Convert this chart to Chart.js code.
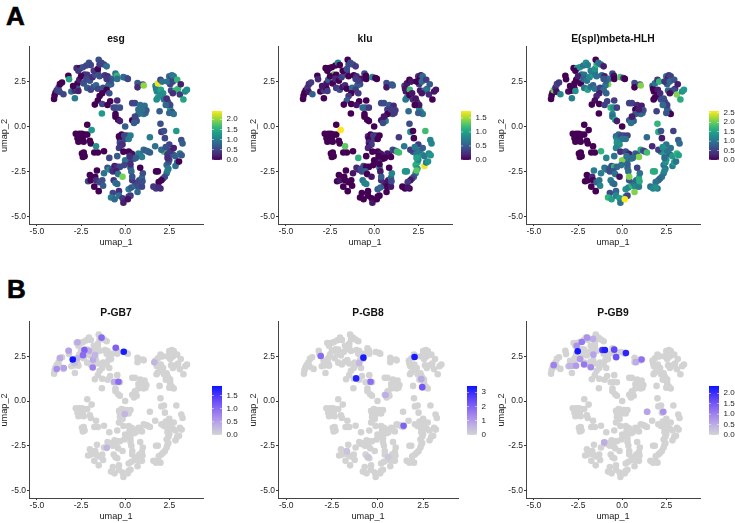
<!DOCTYPE html>
<html>
<head>
<meta charset="utf-8">
<title>umap</title>
<script src="https://cdn.jsdelivr.net/npm/chart.js@4"></script>
<style>
    html, body { margin: 0; padding: 0; background: #fff; }
    body { width: 735px; height: 523px; overflow: hidden; position: relative; }
    canvas { position: absolute; }
    .letter { position: absolute; font: bold 26px "Liberation Sans", sans-serif; color: #000; line-height: 26px; -webkit-text-stroke: 0.6px #000; }
</style>
</head>
<body>
<div class="letter" style="left:6px;top:3px">A</div>
<div class="letter" style="left:7px;top:276px">B</div>

<script>
// cell positions, one line per ten cells
var umap1 = [
    -4.03,-4.00,-3.95,-3.88,-3.78,-3.70,-3.58,-3.72,-3.50,-3.22,
    -3.18,-3.05,-2.85,-2.85,-2.70,-2.70,-2.65,-2.95,-2.60,-2.75,
    -2.55,-2.65,-2.40,-2.20,-2.05,-1.95,-2.30,-2.15,-2.50,-2.35,
    -2.20,-2.00,-2.15,-1.95,-1.80,-1.65,-1.55,-1.85,-1.70,-1.55,
    -1.78,-1.55,-1.45,-1.50,-1.35,-1.20,-1.05,-1.45,-1.15,-1.00,
    -0.75,-0.55,-0.47,-0.45,-0.80,-0.95,-1.25,-1.05,-0.90,-1.30,
    -0.10,0.07,0.15,0.70,0.70,1.00,1.05,-0.90,-1.05,-1.45,
    -1.55,-1.72,-1.30,-1.32,-0.85,-0.45,-0.65,-0.50,-0.30,-0.55,
    -0.55,-0.40,-0.30,-1.00,0.40,0.55,0.85,1.10,0.75,0.90,
    1.05,1.15,0.75,1.20,0.40,0.60,0.65,0.50,0.55,0.95,
    1.72,1.75,1.80,1.85,1.78,1.86,2.00,2.10,2.02,2.00,
    2.15,2.20,2.40,2.50,2.60,2.65,2.75,2.55,2.40,2.70,
    2.95,2.60,2.85,3.00,2.95,2.70,3.15,3.10,3.30,3.40,
    3.50,2.45,2.55,2.65,2.75,2.50,1.95,2.55,2.30,2.35,
    2.00,2.05,2.20,2.90,2.25,3.18,3.25,2.50,1.40,1.70,
    2.20,2.40,2.05,2.70,2.85,3.10,3.20,2.55,2.75,2.30,
    2.35,2.45,2.50,2.40,2.85,2.95,3.05,2.45,2.35,2.40,
    2.25,2.15,2.05,1.90,2.00,1.75,1.85,1.60,1.75,1.90,
    0.00,-0.35,-0.30,-0.20,-0.05,0.10,0.30,0.00,0.20,-0.30,
    -0.25,-0.15,-0.35,-0.45,-0.10,0.20,0.35,0.40,0.75,0.85,
    1.05,1.20,1.30,1.40,0.95,0.50,0.30,0.25,0.30,0.35,
    -2.15,-2.80,-2.60,-2.45,-2.30,-2.15,-2.55,-2.40,-2.70,-2.50,
    -2.65,-2.35,-1.90,-2.00,-1.95,-1.65,-2.45,-2.35,-2.40,-2.30,
    -1.75,-1.55,-1.20,-0.90,0.00,-0.05,0.60,0.25,
    -1.60,-2.00,-2.10,-1.95,-1.70,-1.65,-1.45,-1.30,-1.25,-1.75,
    -1.50,-1.20,-1.00,-0.90,-0.75,-0.60,-0.45,-0.30,-0.70,-0.50,
    -0.40,-0.15,-0.65,-0.55,-0.45,-0.35,-0.70,-0.80,-0.60,-0.35,
    -0.15,-0.10,0.20,0.30,0.15,0.20,0.35,0.55,0.65,0.40,
    0.40,0.75,0.95,0.80,0.95,1.00,0.98,0.70,0.30,0.85
];
var umap2 = [
    1.53,1.72,1.88,2.02,2.15,2.36,2.45,1.93,1.80,2.82,
    2.63,1.95,2.00,1.57,2.40,2.10,1.98,2.25,2.60,3.25,
    3.25,3.10,3.30,3.40,3.55,3.42,2.90,2.88,2.80,2.40,
    2.65,2.55,2.15,2.05,2.20,2.30,2.10,2.75,2.90,3.00,
    3.10,3.20,3.45,3.72,3.55,3.45,3.35,2.80,2.85,2.80,
    2.65,2.95,2.83,2.65,2.35,2.30,2.15,2.05,1.85,1.85,
    2.75,2.70,2.65,2.42,2.18,2.33,2.28,2.55,2.65,1.70,
    1.45,1.22,1.25,0.72,1.40,1.45,1.05,1.05,1.05,0.70,
    0.55,0.38,0.30,1.20,1.30,1.30,1.20,1.15,0.95,0.75,
    0.70,0.75,0.70,0.90,0.35,0.40,0.30,0.20,0.55,0.95,
    2.27,2.10,1.95,1.60,1.50,2.40,2.60,2.50,2.05,1.75,
    1.85,1.50,1.40,2.80,2.70,2.85,2.80,2.35,2.50,2.50,
    2.60,2.00,2.00,2.10,2.00,1.85,2.35,1.78,1.50,1.95,
    2.05,1.30,1.00,0.80,0.70,0.75,0.85,1.20,1.20,1.55,
    0.15,-0.30,-0.25,-0.25,-0.65,-0.75,-0.95,-1.00,-0.60,-1.10,
    -1.40,-1.55,-1.30,-1.55,-1.65,-1.50,-1.60,-1.35,-1.20,-1.15,
    -2.15,-2.00,-1.85,-1.75,-2.20,-2.00,-1.95,-2.35,-2.60,-2.45,
    -2.80,-2.90,-3.00,-3.10,-3.45,-2.50,-2.50,-3.35,-3.45,-3.40,
    0.00,-0.55,-0.70,-0.45,-0.50,-0.50,-0.50,-0.70,-0.70,-0.90,
    -1.05,-1.00,-1.20,-1.65,-1.40,-1.40,-1.50,-1.55,-1.50,-1.55,
    -1.30,-1.35,-1.40,-1.45,-1.70,-1.80,-1.80,-2.00,-2.30,-2.50,
    0.10,-0.40,-0.40,-0.40,-0.45,-0.45,-0.60,-0.60,-0.65,-0.80,
    -0.85,-0.85,-0.20,-0.80,-0.95,-1.10,-1.50,-1.45,-1.70,-1.65,
    -1.45,-1.45,-1.38,-1.75,-1.88,-2.15,-1.75,-1.65,
    -2.45,-2.70,-3.05,-3.00,-2.80,-3.00,-3.10,-3.00,-3.30,-3.35,
    -3.60,-2.60,-2.30,-2.40,-2.35,-2.20,-2.25,-2.25,-2.50,-2.50,
    -2.65,-2.80,-3.00,-3.15,-3.20,-3.60,-3.70,-3.95,-4.05,-3.85,
    -4.00,-4.25,-3.90,-3.85,-4.05,-3.50,-3.40,-3.30,-3.15,-3.00,
    -2.80,-3.35,-3.35,-3.00,-2.85,-2.60,-3.05,-3.65,-2.10,-2.30
];

// expression per cell, same order as umap1/umap2
var esg = [
    0,0,0,.4,.5,0,0,.5,.5,0,
    1.4,.8,.3,1,0,.6,.2,0,.2,.3,
    0,.4,.6,.5,.6,.5,.3,.4,0,.6,
    .5,.6,.7,.5,.6,.8,.5,.3,.6,.7,
    .4,0,.4,.6,.5,.5,.9,.6,.4,.3,
    .7,.9,1.6,.9,.7,.8,.6,0,.6,0,
    .8,.8,.5,.7,.3,.4,2,.6,.4,0,
    0,0,.5,1.3,0,.3,.5,.6,.6,0,
    0,0,.2,0,.5,.5,.9,.9,.9,1,
    1,.8,.9,.7,0,.9,.6,.7,.5,.9,
    1.1,1,1.1,1.3,1.2,2.35,.5,.9,1.4,1.2,
    1.2,.9,1.2,.8,.5,.9,1,.5,.9,.5,
    1.6,.5,1.6,1.7,1.6,.3,.2,.4,1.4,1.1,
    1.2,.6,1.4,.5,.9,.8,.7,.5,.8,.3,
    .6,.4,.6,1.3,.5,.6,.7,.5,1,.9,
    1.7,.4,.8,.6,.7,.9,.7,.4,.2,.6,
    .9,.7,.5,.3,.9,.9,0,1,.9,1,
    .6,.5,0,0,.3,0,0,.4,.4,.3,
    .7,0,0,0,.5,.5,1,.5,1,.5,
    .4,.3,.4,.7,0,0,0,.1,1.1,1,
    .8,.7,.8,.7,1,.6,.5,.4,.6,.8,
    0,0,0,0,0,0,0,0,0,0,
    0,0,1.3,0,0,1.2,0,0,0,0,
    0,0,0,.5,.9,.5,.7,.3,
    0,0,.5,0,0,.3,.5,.6,.7,0,
    0,.9,.6,1.2,.7,.2,.3,.5,.3,.2,
    .9,1.9,.4,.9,.8,.3,.5,1,.8,.9,
    .4,.2,.4,.4,.1,1,.7,.8,.5,.4,
    .6,.6,.5,.5,.8,.6,.6,.8,.3,0
];
var klu = [
    0,0,0,0,.3,.2,.3,.1,.55,0,
    .2,0,.3,0,.1,0,.3,.1,.5,0,
    0,0,0,0,.8,0,1.3,0,0,0,
    .2,0,.3,.4,.1,.2,0,.3,.4,.3,
    0,.4,.4,0,.4,.4,.3,0,0,.2,
    .1,.4,0,0,.4,.5,.6,.3,.3,0,
    .8,0,0,.4,.1,.4,.5,.3,.3,.3,
    .5,0,0,0,0,0,.6,.6,.3,0,
    0,0,0,.1,.4,.4,.5,.2,.3,.1,
    .4,.3,0,.3,.1,.2,.7,.4,.1,.3,
    .3,.1,.1,.7,.7,.1,0,.1,1.2,0,
    .1,.2,.9,.2,0,.1,.6,.3,0,.6,
    .3,.1,.6,.6,.7,.1,.5,.2,0,.1,
    .1,.2,.9,.8,.7,.5,.6,.1,0,.1,
    .4,.9,0,1.2,0,.8,.8,.3,.3,.7,
    .4,.7,.3,.9,.7,.8,.9,.7,.5,.7,
    1.1,1.1,.8,1,1.72,.7,.9,.9,.8,1.3,
    .5,.3,.1,.3,0,.9,.9,0,0,.1,
    0,.2,0,0,.3,.3,0,.3,0,.2,
    0,.3,.2,0,0,0,.1,.1,.1,.1,
    .4,.3,1.2,1.2,0,0,0,.2,.7,.1,
    0,0,0,0,0,0,0,0,0,0,
    0,0,1.75,0,0,1.3,0,0,0,0,
    0,0,0,1.1,0,0,0,0,
    0,0,0,.1,0,0,0,0,0,0,
    0,.1,.2,.2,.4,.4,0,0,.4,.5,
    0,.1,.7,.8,.8,0,0,0,0,0,
    0,.1,0,0,0,.5,.6,.5,.1,.2,
    .5,0,.1,.1,.6,.8,.4,0,0,0
];
var esplHlh = [
    0,0,0,2,.3,.5,.4,.1,1.2,0,
    0,.1,0,1.1,0,0,1.3,0,0,0,
    1.4,0,1.3,1,1.3,1.1,.9,1,.2,0,
    .8,1,1,1.5,1,.8,1,1.2,1.4,1,
    1.1,1.3,1.7,0,1,.9,.2,1,.9,.2,
    1,.6,.1,0,2.1,1,.5,.9,.8,.2,
    1.9,.4,0,.6,0,.5,2.1,.8,.7,.3,
    .1,0,0,0,.5,.5,1.7,1.3,.5,1.2,
    .9,1.5,.2,.5,.5,.5,.3,.2,0,.9,
    .9,.9,.7,.6,.7,.7,.8,1,.2,.2,
    .8,0,0,0,0,1,.4,1.7,.2,0,
    .3,.6,.8,.9,.2,.4,.5,.8,.4,.9,
    .7,.9,.5,.4,.6,.1,.2,2.1,1.6,1.3,
    1.4,.5,.8,.8,0,.7,.5,.5,.9,.6,
    1.7,1.6,.7,.5,.2,.8,.9,1,.9,.3,
    1.2,1.4,.5,.8,1.4,1.7,1.5,1,1,1.3,
    1,1.3,1.4,.9,1.1,1.5,1,1,1.1,1.2,
    1,.9,.8,1,1,1.6,1.6,1,1.2,1.3,
    0,1,1.2,.9,.6,.6,.5,1,1,1.3,
    1.4,1.3,1.2,1,.3,.6,.5,.2,.8,.7,
    1.6,.6,.5,1.8,2.1,1.5,.8,1,.9,.9,
    0,0,0,0,0,0,0,0,0,0,
    0,0,0,0,0,0,0,0,0,0,
    0,0,1.7,1.2,2.1,1,.9,1,
    1.1,0,0,0,.3,0,.8,1,1.2,0,
    0,1.1,1,1.1,.7,.6,1.7,.9,.6,.7,
    1,.1,1.1,1,.9,.8,.6,1.7,1.5,1.2,
    1.4,1,1.3,.5,2.6,1.3,1.2,1.7,1,.7,
    2.1,1.2,1.1,.9,1.6,1,1.6,2.1,.8,.5
];

// the P-GB panels are mostly zero, so only the cells that show colour
var pgb7X = [-3.88,-3.48,-3.7,-3.2,-2.7,-2.05,-1.82,-1.7,-2.72,-2.86,1.65,-0.02,-1.04,-0.62,-1.84,-0.38,-2.31,-2.39,-1.34,-0.53,-2.97,-0.08];
var pgb7Y = [1.79,1.85,2.41,2.82,3.29,2.82,2.32,2.57,2.4,2.13,2.17,-0.73,-2.62,1.08,1.88,1.08,2.86,2.57,3.55,2.98,2.33,2.76];
var pgb7V = [.7,.5,.4,.5,.4,.4,.4,.3,.3,.2,.3,.3,.3,.4,.8,1,1.1,1,1,1.1,1.85,1.8];

var pgb8X = [-1.67,-0.51,0.59,-1,0.44,2.4,-3.11,-0.38,1.43,2.45,-0.77,2.03,-1.17];
var pgb8Y = [-2.82,-3.14,-3.14,2.13,0.34,1.23,2.52,1.08,-1.38,0.78,2.43,2.47,1.27];
var pgb8V = [.3,.2,.2,.5,.7,.8,1.9,1.8,2,2.2,3.3,3.3,3.2];

var pgb9X = [-2.99,-2.86,0.78,-1.02,-1.65,1.42,-1.63,2.33,-2.61,-2.39,-1.78,-2.58,-1.99,-3.88,-2.16,-2.29,1.1,-0.34,-0.45,-1.12,-0.98,0.21,-2.52];
var pgb9Y = [1.96,1.96,2.18,-2.32,3.48,-0.6,2.6,-0.6,1.98,2.35,1.89,3.1,3.55,2.01,2.05,3.31,2.33,2.46,2.88,2.86,2.86,2.69,2.79];
var pgb9V = [.4,.4,.5,.5,.5,.6,.6,.8,.7,.7,.9,.8,.8,1,1.1,1.1,1.2,1.6,1.7,1.9,2.2,2.1,2.3];

var axisTicks = [-5, -2.5, 0, 2.5];

var esgTicks = [0, .5, 1, 1.5, 2];
var kluTicks = [0, .5, 1, 1.5];
var esplTicks = [0, .5, 1, 1.5, 2, 2.5];
var pgb7Ticks = [0, .5, 1, 1.5];
var pgb8Ticks = [0, 1, 2, 3];
var pgb9Ticks = [0, .5, 1, 1.5, 2];

var viridis = ['#440154','#482878','#3e4989','#31688e','#26828e','#1f9e89','#35b779','#6ece58','#b5de2b','#fde725'];
var greyBlue = ['#d3d3d3','#bfaee6','#a287ec','#7e5ff5','#4e38fb','#0a14ff'];

function hexToRgb(hex) {
    return [parseInt(hex.substr(1,2),16), parseInt(hex.substr(3,2),16), parseInt(hex.substr(5,2),16)];
}

function ramp(stops, t) {
    t = Math.max(0, Math.min(1, t));
    var pos = t * (stops.length - 1);
    var i = Math.min(Math.floor(pos), stops.length - 2);
    var a = hexToRgb(stops[i]), b = hexToRgb(stops[i+1]);
    var f = pos - i;
    return 'rgb(' + Math.round(a[0]+(b[0]-a[0])*f) + ',' + Math.round(a[1]+(b[1]-a[1])*f) + ',' + Math.round(a[2]+(b[2]-a[2])*f) + ')';
}

var colorBar = {
    id: 'colorBar',
    afterDraw: function(chart, args, opts) {
        var ctx = chart.ctx, area = chart.chartArea;
        var x = area.right + 9, w = 10;
        var top = area.top + 64, bottom = area.top + 113;
        var grad = ctx.createLinearGradient(0, bottom, 0, top);
        opts.stops.forEach(function(c, i) { grad.addColorStop(i / (opts.stops.length - 1), c); });
        ctx.save();
        ctx.fillStyle = grad;
        ctx.fillRect(x, top, w, bottom - top);
        ctx.font = '8px "Liberation Sans"';
        ctx.textBaseline = 'middle';
        ctx.textAlign = 'left';
        opts.ticks.forEach(function(v) {
            var y = bottom - (v / opts.max) * (bottom - top);
            ctx.fillStyle = '#fff';
            ctx.fillRect(x, y - 0.25, 2, 0.5);
            ctx.fillRect(x + w - 2, y - 0.25, 2, 0.5);
            ctx.fillStyle = '#222';
            ctx.fillText(opts.digits ? v.toFixed(opts.digits) : String(v), x + w + 4.5, y);
        });
        ctx.restore();
    }
};

function cellsOf(xs, ys) {
    return xs.map(function(x, i) { return {x: x, y: ys[i]}; });
}

function makeAxis(ticks, title) {
    return {
        type: 'linear',
        afterBuildTicks: function(axis) { axis.ticks = ticks.map(function(v) { return {value: v}; }); },
        ticks: {
            color: '#222', padding: 1, font: {size: 8.5}, autoSkip: false, maxRotation: 0,
            callback: function(v) { return Number(v).toFixed(1); }
        },
        grid: {drawOnChartArea: false, tickLength: 2, color: '#333', lineWidth: 1},
        border: {color: '#444', width: 1},
        title: {display: true, text: title, color: '#222', padding: 0, font: {size: 9.2}}
    };
}

function drawPanel(cfg) {
    var canvas = document.createElement('canvas');
    var padRight = 45;
    var w = cfg.width + 30 + padRight, h = cfg.height + 16 + 24;
    canvas.width = w;
    canvas.height = h;
    canvas.style.left = (cfg.left - 30) + 'px';
    canvas.style.top = (cfg.top - 16) + 'px';
    canvas.style.width = w + 'px';
    canvas.style.height = h + 'px';
    document.body.appendChild(canvas);

    var xAxis = makeAxis(axisTicks, 'umap_1');
    xAxis.min = -5.45; xAxis.max = 4.41;
    xAxis.afterFit = function(s) { s.height = 24; };
    var yAxis = makeAxis(axisTicks, 'umap_2');
    yAxis.min = -5.43; yAxis.max = 4.43;
    yAxis.afterFit = function(s) { s.width = 30; };

    new Chart(canvas, {
        type: 'scatter',
        data: {datasets: cfg.datasets.map(function(d) {
            return {
                data: d.data,
                backgroundColor: d.colors,
                pointRadius: 3.3,
                pointBorderWidth: 0,
                pointHoverRadius: 3.3
            };
        })},
        options: {
            responsive: false,
            animation: false,
            devicePixelRatio: 1,
            layout: {padding: {top: cfg.titleTop, right: padRight}},
            scales: {x: xAxis, y: yAxis},
            plugins: {
                legend: {display: false},
                tooltip: {enabled: false},
                title: {
                    display: true, text: cfg.title, color: '#111', fullSize: false,
                    font: {size: 10.3, weight: 'bold', lineHeight: 1.2},
                    padding: {top: 0, bottom: 3.6 - cfg.titleTop}
                },
                colorBar: {stops: cfg.stops, ticks: cfg.ticks, max: cfg.max, digits: cfg.digits}
            }
        },
        plugins: [colorBar]
    });
}

function viridisPanel(title, values, max, ticks, left) {
    drawPanel({
        title: title, left: left, top: 47, width: 174, height: 177, titleTop: 1.5,
        stops: viridis, ticks: ticks, max: max, digits: 1,
        datasets: [{
            data: cellsOf(umap1, umap2),
            colors: values.map(function(v) { return ramp(viridis, v / max); })
        }]
    });
}

function greyPanel(title, xs, ys, vs, max, ticks, digits, left, width) {
    drawPanel({
        title: title, left: left, top: 322, width: width, height: 176, titleTop: 0.5,
        stops: greyBlue, ticks: ticks, max: max, digits: digits,
        datasets: [{
            data: cellsOf(xs, ys),
            colors: vs.map(function(v) { return ramp(greyBlue, v / max); })
        }, {
            data: cellsOf(umap1, umap2),
            colors: '#d3d3d3'
        }]
    });
}

Chart.defaults.font.family = '"Liberation Sans", Arial, sans-serif';

viridisPanel('esg', esg, 2.41, esgTicks, 29);
viridisPanel('klu', klu, 1.75, kluTicks, 278);
viridisPanel('E(spl)mbeta-HLH', esplHlh, 2.6, esplTicks, 526);

greyPanel('P-GB7', pgb7X, pgb7Y, pgb7V, 1.87, pgb7Ticks, 1, 29, 174);
greyPanel('P-GB8', pgb8X, pgb8Y, pgb8V, 3.44, pgb8Ticks, 0, 278, 180);
greyPanel('P-GB9', pgb9X, pgb9Y, pgb9V, 2.35, pgb9Ticks, 1, 526, 174);
</script>
</body>
</html>
